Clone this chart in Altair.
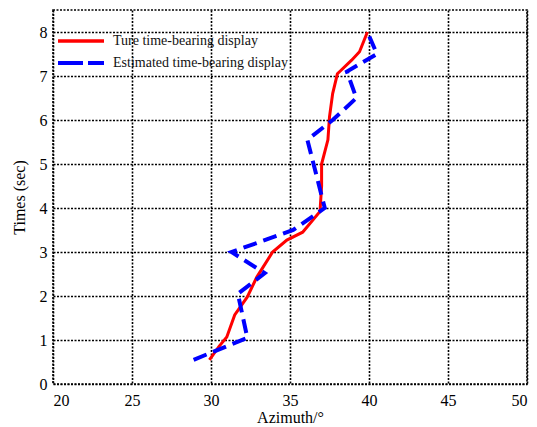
import altair as alt
import pandas as pd

# True time-bearing display (azimuth deg, time sec), in path order
true_az = [29.9, 30.5, 31.0, 31.5, 32.3, 32.9, 33.9, 34.8, 35.8, 36.9, 37.0, 37.0, 37.4, 37.5, 37.7, 38.0, 38.2, 38.9, 39.4, 39.9]
true_t = [0.55, 0.85, 1.07, 1.57, 1.98, 2.43, 3.0, 3.27, 3.45, 3.92, 4.5, 5.0, 5.55, 6.07, 6.6, 7.05, 7.12, 7.36, 7.55, 8.0]

# Estimated time-bearing display
est_az = [28.9, 32.3, 31.7, 33.4, 31.3, 35.2, 37.2, 36.1, 37.7, 39.2, 38.6, 40.5, 39.9]
est_t = [0.55, 1.05, 2.05, 2.52, 3.0, 3.5, 4.0, 5.55, 6.0, 6.5, 7.1, 7.5, 8.0]

series_labels = ["Ture time-bearing display", "Estimated time-bearing display"]
series_colors = ["#ff0000", "#0000ff"]
x_ticks = [20, 25, 30, 35, 40, 45, 50]
y_ticks = [0, 1, 2, 3, 4, 5, 6, 7, 8]

FONT = "Liberation Serif"

df_true = pd.DataFrame({"az": true_az, "t": true_t, "i": list(range(len(true_az)))})
df_est = pd.DataFrame({"az": est_az, "t": est_t, "i": list(range(len(est_az)))})

xenc = alt.X("az:Q",
             scale=alt.Scale(domain=[20, 50], nice=False, zero=False),
             axis=alt.Axis(values=x_ticks, title="Azimuth/°", grid=True,
                           gridColor="black", gridDash=[2, 1.5], gridWidth=1.6,
                           domain=False, ticks=False, labelPadding=8,
                           labelFont=FONT, labelFontSize=16, labelColor="black",
                           titleFont=FONT, titleFontSize=16, titleFontWeight="normal",
                           titleColor="black", titlePadding=1))
yenc = alt.Y("t:Q",
             scale=alt.Scale(domain=[0, 8.5], nice=False, zero=False),
             axis=alt.Axis(values=y_ticks, title="Times (sec)", grid=True,
                           gridColor="black", gridDash=[2, 1.5], gridWidth=1.6,
                           domain=False, ticks=False, labelPadding=6,
                           labelFont=FONT, labelFontSize=16, labelColor="black",
                           titleFont=FONT, titleFontSize=16, titleFontWeight="normal",
                           titleColor="black", titlePadding=12))

true_line = alt.Chart(df_true).mark_line(color=series_colors[0], strokeWidth=3).encode(
    x=xenc, y=yenc, order="i:Q")
est_line = alt.Chart(df_est).mark_line(color=series_colors[1], strokeWidth=4, strokeDash=[14, 7]).encode(
    x="az:Q", y="t:Q", order="i:Q")

leg_df = pd.DataFrame({"label": series_labels})
leg1_line = alt.Chart(leg_df.iloc[[0]]).mark_rule(color=series_colors[0], strokeWidth=3.5).encode(
    x=alt.value(5), x2=alt.value(51), y=alt.value(31))
leg2_line = alt.Chart(leg_df.iloc[[1]]).mark_rule(color=series_colors[1], strokeWidth=4, strokeDash=[25, 5]).encode(
    x=alt.value(5), x2=alt.value(51), y=alt.value(53))
leg1_text = alt.Chart(leg_df.iloc[[0]]).mark_text(align="left", baseline="middle", font=FONT, fontSize=14, color="#111").encode(
    x=alt.value(60), y=alt.value(31), text="label:N")
leg2_text = alt.Chart(leg_df.iloc[[1]]).mark_text(align="left", baseline="middle", font=FONT, fontSize=14, color="#111").encode(
    x=alt.value(60), y=alt.value(53), text="label:N")

chart = alt.layer(true_line, est_line, leg1_line, leg2_line, leg1_text, leg2_text).properties(
    width=474, height=374,
    autosize=alt.AutoSizeParams(type="none"),
    padding={"left": 45, "top": 2, "right": 2, "bottom": 40},
    background="white",
).configure_view(stroke="black", strokeDash=[2, 1.5], strokeWidth=1.6)

chart.save("out.html", embed_options={"renderer": "svg", "actions": False})
